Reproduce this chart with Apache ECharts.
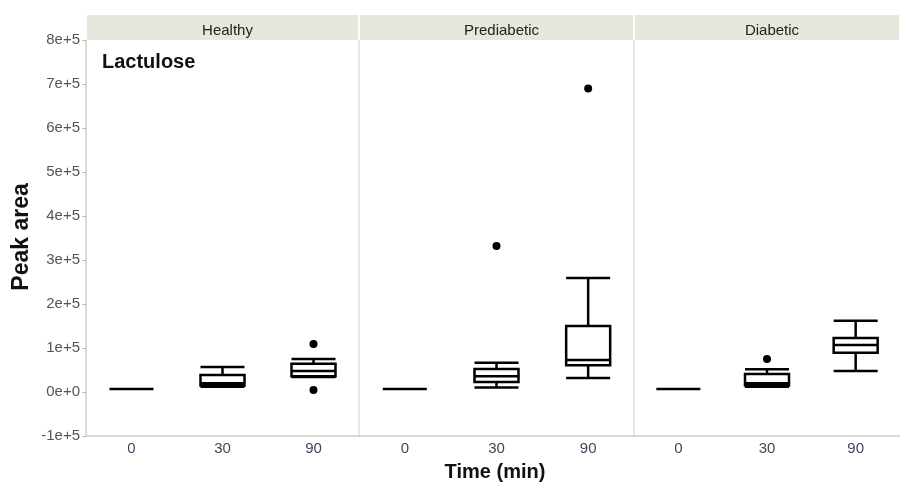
<!DOCTYPE html>
<html>
<head>
<meta charset="utf-8">
<script src="https://cdn.jsdelivr.net/npm/echarts@6/dist/echarts.min.js"></script>
<style>
  html, body { margin: 0; padding: 0; background: #fff; }
  #main { width: 900px; height: 486px; }
</style>
</head>
<body>
<div id="main"></div>
<script>
// categories and panels
var times = ['0', '30', '90'];
var groups = ['Healthy', 'Prediabetic', 'Diabetic'];
var yLabels = ['-1e+5', '0e+0', '1e+5', '2e+5', '3e+5', '4e+5', '5e+5', '6e+5', '7e+5', '8e+5'];

// box data: [min, Q1, median, Q3, max]
var healthyBox = [
  [7000, 7000, 7000, 7000, 7000],
  [12000, 15000, 20000, 38600, 57000],
  [34000, 36000, 48000, 64000, 75000]
];
var prediabeticBox = [
  [7000, 7000, 7000, 7000, 7000],
  [10000, 23000, 36000, 52000, 66500],
  [32000, 61000, 73000, 150000, 259000]
];
var diabeticBox = [
  [7000, 7000, 7000, 7000, 7000],
  [12000, 15000, 20000, 41000, 51500],
  [48000, 89000, 107000, 123000, 162000]
];

// outliers: [time index, value]
var healthyOut = [[2, 109000], [2, 4500]];
var prediabeticOut = [[1, 332000], [2, 690000]];
var diabeticOut = [[1, 75000]];

var boxes = [healthyBox, prediabeticBox, diabeticBox];
var outs = [healthyOut, prediabeticOut, diabeticOut];

var chart = echarts.init(document.getElementById('main'));

var panels = [
  { left: 86, width: 273 },
  { left: 359, width: 275 },
  { left: 634, width: 266 }
];

var grids = [], xAxes = [], yAxes = [], series = [], graphics = [], titles = [];

for (var i = 0; i < 3; i++) {
  grids.push({ left: panels[i].left, width: panels[i].width, top: 40, bottom: 50 });
  xAxes.push({
    type: 'category',
    gridIndex: i,
    data: times,
    axisLine: { show: true, onZero: false, lineStyle: { color: '#cfcfcf', width: 1.5 } },
    axisTick: { show: false },
    axisLabel: { color: '#3d4760', fontSize: 15, fontFamily: 'Liberation Sans', margin: 5 },
    splitLine: { show: false }
  });
  yAxes.push({
    type: 'value',
    gridIndex: i,
    min: -100000,
    max: 800000,
    interval: 100000,
    axisLine: { show: true, lineStyle: { color: i == 0 ? '#cfcfcf' : '#e2e2e2', width: 1.5 } },
    axisTick: { show: i == 0, length: 4, lineStyle: { color: '#bbb' } },
    axisLabel: {
      show: i == 0,
      color: '#555',
      fontSize: 15,
      fontFamily: 'Liberation Sans',
      margin: 6,
      formatter: function (v) {
        return yLabels[Math.round((v + 100000) / 100000)];
      }
    },
    splitLine: { show: false }
  });
  series.push({
    type: 'boxplot',
    xAxisIndex: i,
    yAxisIndex: i,
    data: boxes[i],
    boxWidth: [44, 44],
    itemStyle: { color: '#fff', borderColor: '#000', borderWidth: 2.5 },
    emphasis: { disabled: true },
    z: 3
  });
  series.push({
    type: 'scatter',
    xAxisIndex: i,
    yAxisIndex: i,
    data: outs[i],
    symbolSize: 8,
    itemStyle: { color: '#000', opacity: 1 },
    z: 4
  });
  // strip header
  graphics.push({
    type: 'rect',
    shape: { x: panels[i].left + 1, y: 15, width: panels[i].width - 2, height: 25 },
    style: { fill: '#e7e7dd' },
    z: 0
  });
  titles.push({
    text: groups[i],
    left: panels[i].left + panels[i].width / 2,
    textAlign: 'center',
    top: 18,
    textStyle: { fontSize: 15, fontWeight: 'normal', color: '#222', fontFamily: 'Liberation Sans' }
  });
}

titles.push({
  text: 'Lactulose',
  left: 97,
  top: 47,
  textStyle: { fontSize: 20, fontWeight: 'bold', color: '#111', fontFamily: 'Liberation Sans' }
});

graphics.push({
  type: 'text',
  x: 22,
  y: 237,
  rotation: Math.PI / 2,
  style: {
    text: 'Peak area',
    font: 'bold 23px "Liberation Sans"',
    fill: '#111',
    textAlign: 'center',
    textVerticalAlign: 'middle'
  }
});
graphics.push({
  type: 'text',
  x: 495,
  y: 472,
  style: {
    text: 'Time (min)',
    font: 'bold 20px "Liberation Sans"',
    fill: '#111',
    textAlign: 'center',
    textVerticalAlign: 'middle'
  }
});

chart.setOption({
  animation: false,
  backgroundColor: '#fff',
  title: titles,
  grid: grids,
  xAxis: xAxes,
  yAxis: yAxes,
  series: series,
  graphic: graphics
});
</script>
</body>
</html>
